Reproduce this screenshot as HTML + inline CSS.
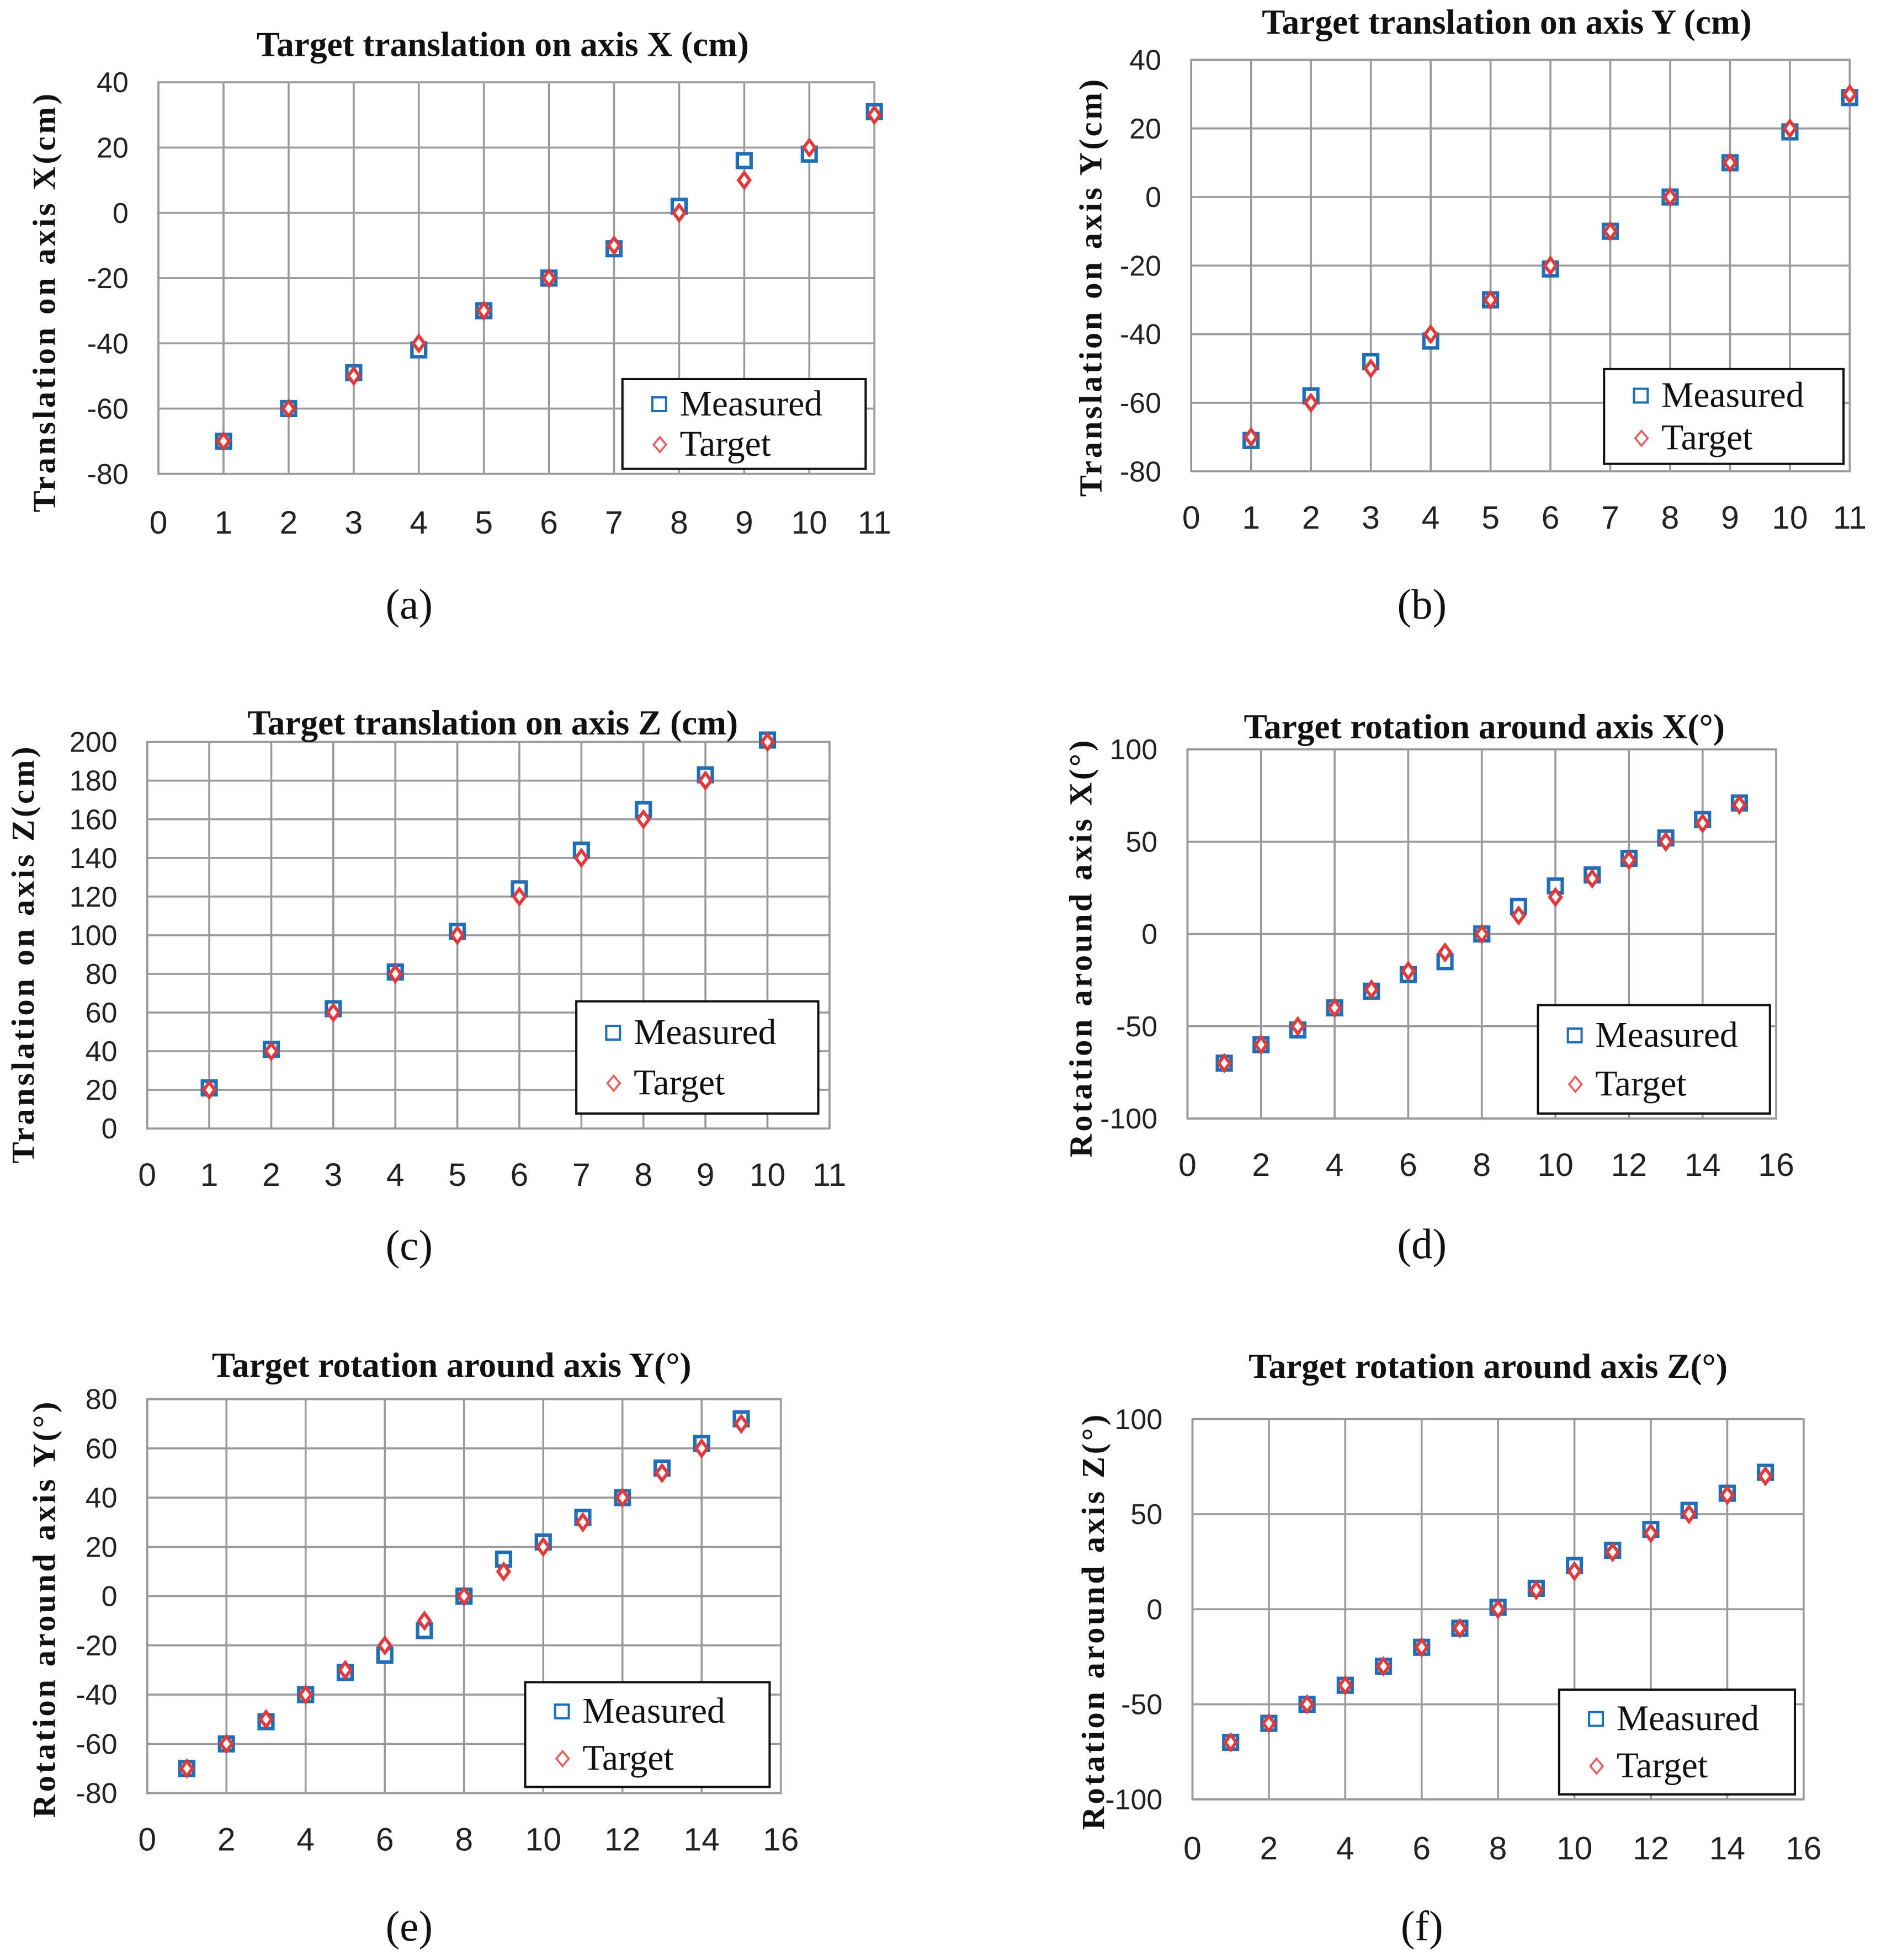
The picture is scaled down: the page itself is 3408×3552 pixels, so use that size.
<!DOCTYPE html>
<html><head><meta charset="utf-8"><style>
html,body{margin:0;padding:0;background:#fff;}
svg{display:block;}
.ttl{font-family:"Liberation Serif",serif;font-weight:bold;font-size:28px;fill:#111;}
.tick{font-family:"Liberation Sans",sans-serif;font-size:23px;fill:#222;}
.xtick{font-family:"Liberation Sans",sans-serif;font-size:26px;fill:#222;}
.yl{font-family:"Liberation Serif",serif;font-weight:bold;font-size:26px;fill:#111;letter-spacing:2px;}
.leg{font-family:"Liberation Serif",serif;font-size:29px;fill:#111;}
.cap{font-family:"Liberation Serif",serif;font-size:34px;fill:#111;}
</style></head><body>
<svg id="fig" xmlns="http://www.w3.org/2000/svg" width="3408" height="3552" viewBox="0 0 1508 1571.8"></svg>
<script>
// ---- data (a) ----
const aCats=[1,2,3,4,5,6,7,8,9,10,11];
const aMeasured=[-70,-60,-49,-42,-30,-20,-11,2,16,18,31];
const aTarget=[-70,-60,-50,-40,-30,-20,-10,0,10,20,30];
const aYTicks=[40,20,0,-20,-40,-60,-80];
const aXTicks=[0,1,2,3,4,5,6,7,8,9,10,11];
// ---- data (b) ----
const bCats=[1,2,3,4,5,6,7,8,9,10,11];
const bMeasured=[-71,-58,-48,-42,-30,-21,-10,0,10,19,29];
const bTarget=[-70,-60,-50,-40,-30,-20,-10,0,10,20,30];
const bYTicks=[40,20,0,-20,-40,-60,-80];
const bXTicks=[0,1,2,3,4,5,6,7,8,9,10,11];
// ---- data (c) ----
const cCats=[1,2,3,4,5,6,7,8,9,10];
const cMeasured=[21,41,62,81,102,124,144,165,183,201];
const cTarget=[20,40,60,80,100,120,140,160,180,200];
const cYTicks=[200,180,160,140,120,100,80,60,40,20,0];
const cXTicks=[0,1,2,3,4,5,6,7,8,9,10,11];
// ---- data (d) ----
const dCats=[1,2,3,4,5,6,7,8,9,10,11,12,13,14,15];
const dMeasured=[-70,-60,-52,-40,-31,-22,-15,0,15,26,32,41,52,62,71];
const dTarget=[-70,-60,-50,-40,-30,-20,-10,0,10,20,30,40,50,60,70];
const dYTicks=[100,50,0,-50,-100];
const dXTicks=[0,2,4,6,8,10,12,14,16];
// ---- data (e) ----
const eCats=[1,2,3,4,5,6,7,8,9,10,11,12,13,14,15];
const eMeasured=[-70,-60,-51,-40,-31,-24,-14,0,15,22,32,40,52,62,72];
const eTarget=[-70,-60,-50,-40,-30,-20,-10,0,10,20,30,40,50,60,70];
const eYTicks=[80,60,40,20,0,-20,-40,-60,-80];
const eXTicks=[0,2,4,6,8,10,12,14,16];
// ---- data (f) ----
const fCats=[1,2,3,4,5,6,7,8,9,10,11,12,13,14,15];
const fMeasured=[-70,-60,-50,-40,-30,-20,-10,1,11,23,31,42,52,61,72];
const fTarget=[-70,-60,-50,-40,-30,-20,-10,0,10,20,30,40,50,60,70];
const fYTicks=[100,50,0,-50,-100];
const fXTicks=[0,2,4,6,8,10,12,14,16];

const NS="http://www.w3.org/2000/svg";
const fig=document.getElementById('fig');
function mk(tag,attrs,parent,text){
  const e=document.createElementNS(NS,tag);
  for(const k in attrs)e.setAttribute(k,attrs[k]);
  if(text!==undefined)e.textContent=text;
  parent.appendChild(e);return e;
}
function panel(id,cfg){
  const g=mk('g',{},fig);
  
  
  const {L,R,T,B,xmin,xmax,ymin,ymax}=cfg;
  const sx=v=>L+(v-xmin)/(xmax-xmin)*(R-L);
  const sy=v=>B-(v-ymin)/(ymax-ymin)*(B-T);
  cfg.yTicks.forEach(v=>{
    const l=mk('line',{x1:L,x2:R,y1:sy(v),y2:sy(v),stroke:'#9a9a9a','stroke-width':1.6},g);
    
    
    const t=mk('text',{x:L-cfg.yLabOff,y:sy(v)+8,'text-anchor':'end',class:'tick'},g,String(v));
    
    
  });
  cfg.xTicks.forEach(v=>{
    const l=mk('line',{x1:sx(v),x2:sx(v),y1:T,y2:B,stroke:'#9a9a9a','stroke-width':1.6},g);
    
    
    const t=mk('text',{x:sx(v),y:B+cfg.xLabOff,'text-anchor':'middle',class:'xtick'},g,String(v));
    
    
  });
  const fr=mk('rect',{x:L,y:T,width:R-L,height:B-T,fill:'none',stroke:'#9a9a9a','stroke-width':1.6},g);
  
  
  const ti=mk('text',{x:cfg.titleX,y:cfg.titleY,'text-anchor':'middle',class:'ttl'},g,cfg.title);
  
  
  const yl=mk('text',{x:0,y:0,'text-anchor':'middle',class:'yl',transform:`translate(${cfg.ylX},${cfg.ylY}) rotate(-90)`},g,cfg.ylabel);
  
  
  const cap=mk('text',{x:cfg.capX,y:cfg.capY,'text-anchor':'middle',class:'cap'},g,cfg.cap);
  
  
  cfg.cats.forEach((c,i)=>{
    const x=sx(c),y=sy(cfg.meas[i]);
    const s=mk('rect',{x:x-5.5,y:y-5.5,width:11,height:11,fill:'#fff',stroke:'#1f6fb8','stroke-width':2.8},g);
    
    
  });
  cfg.cats.forEach((c,i)=>{
    const x=sx(c),y=sy(cfg.targ[i]);
    const d=mk('polygon',{points:`${x},${y-6} ${x+4.5},${y} ${x},${y+6} ${x-4.5},${y}`,fill:'#fff',stroke:'#e03a3a','stroke-width':2.6},g);
    
    
  });
  const [lx,ly,lw,lh]=cfg.leg;
  const lg=mk('g',{},g);
  
  
  mk('rect',{x:lx,y:ly,width:lw,height:lh,fill:'#fff',stroke:'#111','stroke-width':1.8},lg);
  const r1=ly+lh*0.28,r2=ly+lh*0.73;
  mk('rect',{x:lx+24,y:r1-5.5,width:11,height:11,fill:'none',stroke:'#1f6fb8','stroke-width':1.8},lg);
  const t1=mk('text',{x:lx+46,y:r1+9,class:'leg'},lg,'Measured');
  
  
  mk('polygon',{points:`${lx+30},${r2-6} ${lx+35},${r2} ${lx+30},${r2+6} ${lx+25},${r2}`,fill:'none',stroke:'#e86060','stroke-width':1.6},lg);
  const t2=mk('text',{x:lx+46,y:r2+9,class:'leg'},lg,'Target');
  
  
}
panel('a',{L:127,R:701,T:66,B:380,xmin:0,xmax:11,ymin:-80,ymax:40,yTicks:aYTicks,xTicks:aXTicks,cats:aCats,meas:aMeasured,targ:aTarget,
  yLabOff:24,xLabOff:48,title:'Target translation on axis X (cm)',titleX:403,titleY:45,ylabel:'Translation on  axis X(cm)',ylX:44,ylY:242,cap:'(a)',capX:328,capY:496,leg:[499,304,195,72]});
panel('b',{L:955,R:1483,T:48,B:378,xmin:0,xmax:11,ymin:-80,ymax:40,yTicks:bYTicks,xTicks:bXTicks,cats:bCats,meas:bMeasured,targ:bTarget,
  yLabOff:24,xLabOff:46,title:'Target translation on axis Y (cm)',titleX:1208,titleY:27,ylabel:'Translation on  axis Y(cm)',ylX:883,ylY:230,cap:'(b)',capX:1140,capY:496,leg:[1286,296,192,76]});
panel('c',{L:118,R:665,T:595,B:905,xmin:0,xmax:11,ymin:0,ymax:200,yTicks:cYTicks,xTicks:cXTicks,cats:cCats,meas:cMeasured,targ:cTarget,
  yLabOff:24,xLabOff:46,title:'Target translation on axis Z (cm)',titleX:395,titleY:589,ylabel:'Translation on  axis Z(cm)',ylX:27,ylY:765,cap:'(c)',capX:328,capY:1010,leg:[462,803,194,90]});
panel('d',{L:952,R:1424,T:601,B:897,xmin:0,xmax:16,ymin:-100,ymax:100,yTicks:dYTicks,xTicks:dXTicks,cats:dCats,meas:dMeasured,targ:dTarget,
  yLabOff:24,xLabOff:46,title:'Target rotation around axis X(°)',titleX:1190,titleY:592,ylabel:'Rotation around axis X(°)',ylX:875,ylY:760,cap:'(d)',capX:1140,capY:1009,leg:[1233,806,186,87]});
panel('e',{L:118,R:626,T:1122,B:1438,xmin:0,xmax:16,ymin:-80,ymax:80,yTicks:eYTicks,xTicks:eXTicks,cats:eCats,meas:eMeasured,targ:eTarget,
  yLabOff:24,xLabOff:46,title:'Target rotation around axis Y(°)',titleX:362,titleY:1104,ylabel:'Rotation around axis Y(°)',ylX:44,ylY:1290,cap:'(e)',capX:328,capY:1556,leg:[421,1349,196,84]});
panel('f',{L:956,R:1446,T:1138,B:1443,xmin:0,xmax:16,ymin:-100,ymax:100,yTicks:fYTicks,xTicks:fXTicks,cats:fCats,meas:fMeasured,targ:fTarget,
  yLabOff:24,xLabOff:48,title:'Target rotation around axis Z(°)',titleX:1193,titleY:1105,ylabel:'Rotation around axis Z(°)',ylX:885,ylY:1300,cap:'(f)',capX:1140,capY:1556,leg:[1250,1355,189,84]});
</script>
</body></html>
